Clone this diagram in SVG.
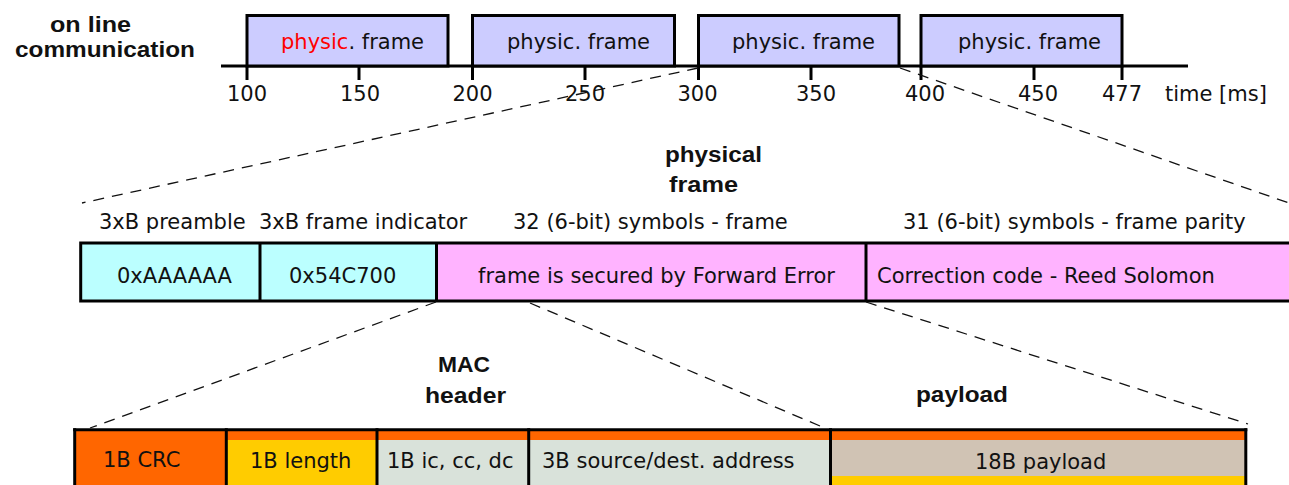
<svg xmlns="http://www.w3.org/2000/svg" width="1289" height="485" viewBox="0 0 1289 485">
  <style>
    .t { font-family: "DejaVu Sans", "Liberation Sans", sans-serif; font-size: 21px; fill: #111; }
    .b { font-family: "Liberation Sans", Arial, sans-serif; font-size: 22.5px; font-weight: bold; fill: #111; }
    .red { fill: #ff0000; }
    .edge { stroke: #000; stroke-width: 3; }
    .frame { fill: #ccccff; stroke: #000; stroke-width: 3; }
    .cyan { fill: #bbffff; }
    .pink { fill: #ffb3ff; }
    .orange { fill: #ff6600; }
    .yellow { fill: #ffcc00; }
    .grey { fill: #d9e2da; }
    .beige { fill: #d0c3b4; }
    .dash { stroke: #111; stroke-width: 1.3; stroke-dasharray: 11 8; fill: none; }
  </style>

  <!-- time line with the transmitted frames -->
  <g id="timeline">
    <text class="b" x="50" y="32" textLength="81" lengthAdjust="spacingAndGlyphs">on line</text>
    <text class="b" x="15" y="57" textLength="180" lengthAdjust="spacingAndGlyphs">communication</text>
    <line class="edge" x1="221" y1="66" x2="1188" y2="66"/>
    <g class="edge">
      <line x1="247" y1="66" x2="247" y2="80"/>
      <line x1="359" y1="66" x2="359" y2="80"/>
      <line x1="472.5" y1="66" x2="472.5" y2="80"/>
      <line x1="585" y1="66" x2="585" y2="80"/>
      <line x1="698.5" y1="66" x2="698.5" y2="80"/>
      <line x1="811" y1="66" x2="811" y2="80"/>
      <line x1="921" y1="66" x2="921" y2="80"/>
      <line x1="1034" y1="66" x2="1034" y2="80"/>
      <line x1="1122" y1="66" x2="1122" y2="80"/>
    </g>
    <g class="t" text-anchor="middle">
      <text x="247" y="101">100</text>
      <text x="360" y="101">150</text>
      <text x="472.5" y="101">200</text>
      <text x="585" y="101">250</text>
      <text x="697.5" y="101">300</text>
      <text x="816" y="101">350</text>
      <text x="925" y="101">400</text>
      <text x="1038" y="101">450</text>
      <text x="1122" y="101">477</text>
    </g>
    <text class="t" x="1165" y="101">time [ms]</text>
  </g>

  <g id="frame1">
    <rect class="frame" x="247" y="15.5" width="201" height="50.5"/>
    <text class="t" x="281" y="49"><tspan class="red">physic</tspan>. frame</text>
  </g>
  <g id="frame2">
    <rect class="frame" x="472.5" y="15.5" width="202" height="50.5"/>
    <text class="t" x="507" y="49">physic. frame</text>
  </g>
  <g id="frame3">
    <rect class="frame" x="698.5" y="15.5" width="200.5" height="50.5"/>
    <text class="t" x="732" y="49">physic. frame</text>
  </g>
  <g id="frame4">
    <rect class="frame" x="921" y="15.5" width="201" height="50.5"/>
    <text class="t" x="958" y="49">physic. frame</text>
  </g>

  <!-- physical frame -->
  <g id="physical-frame">
    <text class="b" x="665" y="162" textLength="97" lengthAdjust="spacingAndGlyphs">physical</text>
    <text class="b" x="669" y="192" textLength="69" lengthAdjust="spacingAndGlyphs">frame</text>
    <text class="t" x="99" y="229">3xB preamble</text>
    <text class="t" x="259" y="229">3xB frame indicator</text>
    <text class="t" x="513" y="229">32 (6-bit) symbols - frame</text>
    <text class="t" x="903" y="229">31 (6-bit) symbols - frame parity</text>
    <rect class="cyan" x="81" y="244" width="356" height="56"/>
    <rect class="pink" x="437" y="244" width="860" height="56"/>
    <rect x="80.7" y="243" width="1220" height="58" fill="none" stroke="#000" stroke-width="3"/>
    <line class="edge" x1="260" y1="243" x2="260" y2="301"/>
    <line class="edge" x1="436.5" y1="243" x2="436.5" y2="301"/>
    <line class="edge" x1="866" y1="243" x2="866" y2="301"/>
    <text class="t" x="117" y="283">0xAAAAAA</text>
    <text class="t" x="289" y="283">0x54C700</text>
    <text class="t" x="478" y="283">frame is secured by Forward Error</text>
    <text class="t" x="877" y="283">Correction code - Reed Solomon</text>
  </g>

  <!-- MAC frame -->
  <g id="mac-frame">
    <text class="b" x="438" y="372" textLength="52" lengthAdjust="spacingAndGlyphs">MAC</text>
    <text class="b" x="425" y="403" textLength="81" lengthAdjust="spacingAndGlyphs">header</text>
    <text class="b" x="916" y="402" textLength="92" lengthAdjust="spacingAndGlyphs">payload</text>

    <rect class="orange" x="75" y="430" width="1171" height="10"/>
    <rect class="orange" x="75" y="430" width="151" height="55"/>
    <rect class="yellow" x="226" y="440" width="151" height="45"/>
    <rect class="grey" x="377" y="440" width="453" height="45"/>
    <rect class="beige" x="830" y="440" width="416" height="36"/>
    <rect class="yellow" x="830" y="476" width="416" height="9"/>

    <line class="edge" x1="73.2" y1="429.7" x2="1247.3" y2="429.7"/>
    <line class="edge" x1="74.7" y1="428.2" x2="74.7" y2="485"/>
    <line class="edge" x1="226.3" y1="428.2" x2="226.3" y2="485"/>
    <line class="edge" x1="377" y1="428.2" x2="377" y2="485"/>
    <line class="edge" x1="528.7" y1="428.2" x2="528.7" y2="485"/>
    <line class="edge" x1="830.5" y1="428.2" x2="830.5" y2="485"/>
    <line class="edge" x1="1245.8" y1="428.2" x2="1245.8" y2="485"/>

    <text class="t" x="103" y="467">1B CRC</text>
    <text class="t" x="250" y="468">1B length</text>
    <text class="t" x="387" y="468">1B ic, cc, dc</text>
    <text class="t" x="542" y="468">3B source/dest. address</text>
    <text class="t" x="975" y="469">18B payload</text>
  </g>

  <!-- zoom guides between levels -->
  <g id="connectors" class="dash">
    <line x1="698" y1="68" x2="82" y2="203"/>
    <line x1="900" y1="68" x2="1292" y2="204"/>
    <line x1="436" y1="302" x2="90" y2="428"/>
    <line x1="530" y1="303" x2="820" y2="426"/>
    <line x1="866" y1="302" x2="1248" y2="424"/>
  </g>
</svg>
